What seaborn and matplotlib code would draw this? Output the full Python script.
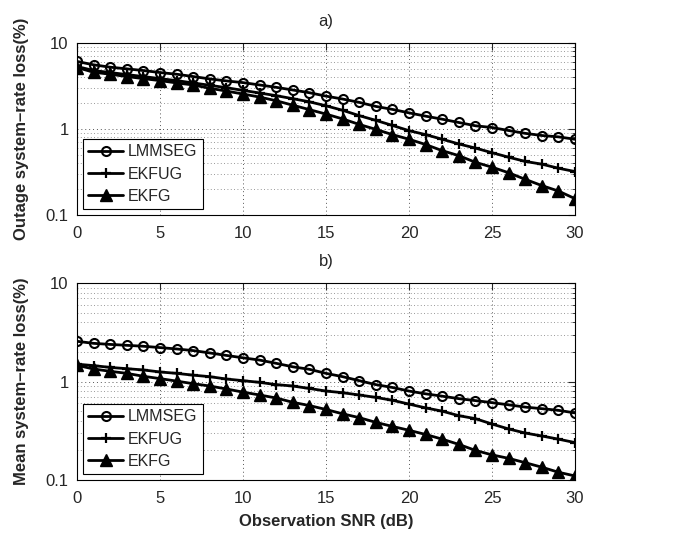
import numpy as np
import pandas as pd
import matplotlib
matplotlib.use("Agg")
import matplotlib.pyplot as plt
import seaborn as sns
from matplotlib.ticker import LogLocator, FixedLocator, NullFormatter

snr = list(range(0, 31))
series_names = ["LMMSEG", "EKFUG", "EKFG"]

outage_lmmseg = [6.1, 5.57, 5.23, 5.0, 4.78, 4.53, 4.33, 4.07, 3.82, 3.62, 3.46,
                 3.25, 3.05, 2.84, 2.64, 2.41, 2.23, 2.04, 1.83, 1.69, 1.54,
                 1.41, 1.30, 1.19, 1.09, 1.04, 0.96, 0.89, 0.84, 0.81, 0.76]
outage_ekfug = [5.33, 4.78, 4.53, 4.29, 4.07, 3.85, 3.65, 3.43, 3.22, 3.02, 2.81,
                2.62, 2.44, 2.25, 2.07, 1.86, 1.65, 1.43, 1.26, 1.10, 0.956,
                0.86, 0.76, 0.67, 0.60, 0.53, 0.47, 0.42, 0.39, 0.35, 0.32]
outage_ekfg = [5.18, 4.57, 4.33, 4.07, 3.85, 3.65, 3.43, 3.25, 2.97, 2.76, 2.55,
               2.35, 2.13, 1.89, 1.68, 1.49, 1.31, 1.13, 0.99, 0.86, 0.76,
               0.66, 0.56, 0.49, 0.41, 0.36, 0.31, 0.26, 0.22, 0.19, 0.155]

mean_lmmseg = [2.56, 2.44, 2.38, 2.33, 2.28, 2.21, 2.14, 2.06, 1.95, 1.84, 1.74,
               1.65, 1.53, 1.41, 1.33, 1.21, 1.12, 1.02, 0.93, 0.87, 0.80,
               0.75, 0.71, 0.67, 0.64, 0.61, 0.58, 0.55, 0.53, 0.51, 0.48]
mean_ekfug = [1.50, 1.45, 1.39, 1.35, 1.31, 1.25, 1.21, 1.16, 1.12, 1.06, 1.02,
              0.98, 0.93, 0.90, 0.85, 0.80, 0.77, 0.73, 0.69, 0.645, 0.59,
              0.54, 0.50, 0.45, 0.42, 0.37, 0.33, 0.30, 0.28, 0.26, 0.24]
mean_ekfg = [1.46, 1.34, 1.27, 1.21, 1.13, 1.07, 1.01, 0.95, 0.90, 0.84, 0.78,
             0.73, 0.68, 0.615, 0.57, 0.52, 0.47, 0.43, 0.385, 0.35, 0.32,
             0.29, 0.26, 0.23, 0.20, 0.18, 0.166, 0.15, 0.135, 0.12, 0.11]

panel_titles = ["a)", "b)"]
y_labels = ["Outage system\u2013rate loss(%)", "Mean system\u2013rate loss(%)"]
x_label = "Observation SNR (dB)"
x_ticks = [0, 5, 10, 15, 20, 25, 30]
y_ticks = [0.1, 1, 10]
y_tick_labels = ["0.1", "1", "10"]

sns.set_style("white")
plt.rcParams["font.family"] = ["Liberation Sans", "DejaVu Sans"]
plt.rcParams["xtick.direction"] = "in"
plt.rcParams["ytick.direction"] = "in"

fig = plt.figure(figsize=(6.79, 5.37), dpi=100)
ax_a = fig.add_axes([0.1134, 0.5996, 0.7334, 0.3204])
ax_b = fig.add_axes([0.1134, 0.1061, 0.7334, 0.3669])

seaborn_markers = {"LMMSEG": "o", "EKFUG": "P", "EKFG": "^"}
final_markers = {"LMMSEG": "o", "EKFUG": "+", "EKFG": "^"}
palette = {n: "black" for n in series_names}
marker_props = {
    "LMMSEG": dict(markersize=6.5, markerfacecolor="none", markeredgecolor="black", markeredgewidth=1.5),
    "EKFUG": dict(markersize=7, markeredgecolor="black", markeredgewidth=1.6),
    "EKFG": dict(markersize=8.5, markerfacecolor="black", markeredgecolor="black", markeredgewidth=1.0),
}

def make_df(a, b, c):
    rows = []
    for name, vals in zip(series_names, [a, b, c]):
        for x, v in zip(snr, vals):
            rows.append({"SNR": x, "val": v, "series": name})
    return pd.DataFrame(rows)

dfs = [make_df(outage_lmmseg, outage_ekfug, outage_ekfg),
       make_df(mean_lmmseg, mean_ekfug, mean_ekfg)]

for ax, df, title, ylab in zip([ax_a, ax_b], dfs, panel_titles, y_labels):
    ax.set_yscale("log")
    sns.lineplot(data=df, x="SNR", y="val", hue="series", style="series",
                 hue_order=series_names, style_order=series_names,
                 palette=palette, markers=seaborn_markers, dashes=False,
                 linewidth=2.0, ax=ax, legend=False, zorder=3)
    lines = ax.lines[:3]
    for ln, name in zip(lines, series_names):
        ln.set_linestyle("-")
        ln.set_linewidth(2.0)
        ln.set_color("black")
        ln.set_marker(final_markers[name])
        for k, v in marker_props[name].items():
            getattr(ln, "set_" + k)(v)
    ax.set_xlim(0, 30)
    ax.set_ylim(0.1, 10)
    ax.xaxis.set_major_locator(FixedLocator(x_ticks))
    ax.yaxis.set_major_locator(FixedLocator(y_ticks))
    ax.set_yticklabels(y_tick_labels)
    ax.yaxis.set_minor_locator(LogLocator(base=10, subs=np.arange(2, 10)))
    ax.yaxis.set_minor_formatter(NullFormatter())
    ax.grid(True, which="major", axis="both", linestyle=(0, (1, 3)), color="#555555", linewidth=0.7)
    ax.grid(True, which="minor", axis="y", linestyle=(0, (1, 3)), color="#777777", linewidth=0.6)
    ax.tick_params(axis="both", which="major", labelsize=12, length=5, width=0.8,
                   top=True, right=True)
    ax.tick_params(axis="x", which="major", pad=8)
    ax.tick_params(axis="y", which="major", pad=6)
    ax.tick_params(axis="y", which="minor", length=2.5, width=0.6, right=True)
    for s in ax.spines.values():
        s.set_color("black")
        s.set_linewidth(0.8)
    ax.set_title(title, fontsize=12, pad=12)
    ax.set_ylabel(ylab, fontsize=12, fontweight="bold", labelpad=12)
    ax.set_xlabel("")
    leg = ax.legend(handles=lines, labels=series_names, loc="lower left", fontsize=11.5,
                    frameon=True, fancybox=False, edgecolor="black", handlelength=2.2,
                    borderpad=0.35, labelspacing=0.45, handletextpad=0.3,
                    borderaxespad=0.35)
    leg.get_frame().set_linewidth(0.8)
    leg.get_frame().set_alpha(1)

ax_b.set_xlabel(x_label, fontsize=12, fontweight="bold", labelpad=6)

fig.savefig("out.png", dpi=100)
